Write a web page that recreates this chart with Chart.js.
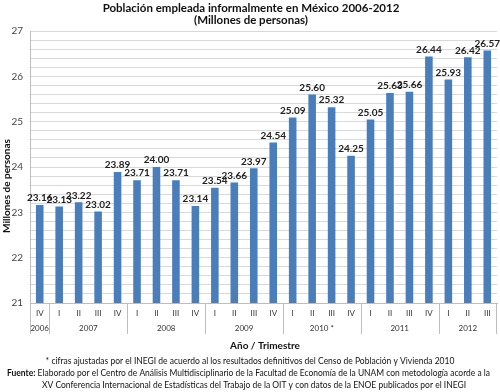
<!DOCTYPE html>
<html>
<head>
<meta charset="utf-8">
<script src="https://cdn.jsdelivr.net/npm/chart.js@4"></script>
<style>
html,body{margin:0;padding:0;background:#fff;}
#wrap{position:relative;width:500px;height:392px;}
</style>
</head>
<body>
<div id="wrap"><canvas id="c" width="500" height="392"></canvas></div>
<script>
const quarters = ['IV','I','II','III','IV','I','II','III','IV','I','II','III','IV','I','II','III','IV','I','II','III','IV','I','II','III'];
const years = ['2006','2007','2007','2007','2007','2008','2008','2008','2008','2009','2009','2009','2009','2010 *','2010 *','2010 *','2010 *','2011','2011','2011','2011','2012','2012','2012'];
const values = [23.16,23.13,23.22,23.02,23.89,23.71,24.00,23.71,23.14,23.54,23.66,23.97,24.54,25.09,25.60,25.32,24.25,25.05,25.63,25.66,26.44,25.93,26.42,26.57];
const yTicks = [21,22,23,24,25,26,27];
const titleLines = ['Población empleada informalmente en México 2006-2012','(Millones de personas)'];
const yTitle = 'Millones de personas';
const xTitle = 'Año / Trimestre';
const footnote = '* cifras ajustadas por el INEGI de acuerdo al los resultados definitivos del Censo de Población y Vivienda 2010';
const sourceLabel = 'Fuente:';
const sourceText1 = ' Elaborado por el Centro de Análisis Multidisciplinario de la Facultad de Economía de la UNAM con metodología acorde a la';
const sourceText2 = 'XV Conferencia Internacional de Estadísticas del Trabajo de la OIT y con datos de la ENOE publicados por el INEGI';

const FONT = 'Lato, "Open Sans", sans-serif';

function fitText(ctx, text, x, y, maxW) {
  const w = ctx.measureText(text).width;
  if (w > maxW) {
    ctx.save();
    ctx.translate(x, y);
    ctx.scale(maxW / w, 1);
    ctx.fillText(text, 0, 0);
    ctx.restore();
  } else ctx.fillText(text, x, y);
}

const extras = {
  id: 'extras',
  afterDatasetsDraw(chart) {
    const ctx = chart.ctx;
    const meta = chart.getDatasetMeta(0);
    ctx.save();
    ctx.font = 'bold 10px ' + FONT;
    ctx.fillStyle = '#222';
    ctx.textAlign = 'center';
    ctx.textBaseline = 'bottom';
    meta.data.forEach((bar, i) => {
      ctx.fillText(values[i].toFixed(2), bar.x, bar.y - 2);
    });
    ctx.restore();
  },
  afterDraw(chart) {
    const ctx = chart.ctx;
    const xs = chart.scales.x;
    const area = chart.chartArea;
    ctx.save();
    // titles
    ctx.fillStyle = '#111';
    ctx.textAlign = 'center';
    ctx.textBaseline = 'middle';
    ctx.font = 'bold 11.5px ' + FONT;
    ctx.fillText(titleLines[0], 251, 8);
    ctx.fillText(titleLines[1], 251, 20);
    // year group separators and labels
    const half = (xs.getPixelForValue(1) - xs.getPixelForValue(0)) / 2;
    ctx.strokeStyle = '#bdbdbd';
    ctx.lineWidth = 1;
    let start = 0;
    const bounds = [];
    for (let i = 1; i <= years.length; i++) {
      if (i === years.length || years[i] !== years[start]) {
        bounds.push([start, i - 1]);
        start = i;
      }
    }
    ctx.font = '8px ' + FONT;
    ctx.fillStyle = '#333';
    bounds.forEach(([a, b], k) => {
      const left = xs.getPixelForValue(a) - half;
      const right = xs.getPixelForValue(b) + half;
      ctx.beginPath();
      const lx = Math.round(left) + 0.5;
      ctx.moveTo(lx, area.bottom);
      ctx.lineTo(lx, area.bottom + 31);
      ctx.stroke();
      if (k === bounds.length - 1) {
        const rx = Math.round(right) - 0.5;
        ctx.beginPath();
        ctx.moveTo(rx, area.bottom);
        ctx.lineTo(rx, area.bottom + 31);
        ctx.stroke();
      }
      ctx.fillText(years[a], (left + right) / 2, area.bottom + 25);
    });
    // axis titles
    ctx.fillStyle = '#111';
    ctx.font = 'bold 10px ' + FONT;
    ctx.fillText(xTitle, 265, 346);
    ctx.save();
    ctx.translate(7, 186);
    ctx.rotate(-Math.PI / 2);
    ctx.fillText(yTitle, 0, 0);
    ctx.restore();
    // footnotes
    ctx.font = '8.5px ' + FONT;
    ctx.fillStyle = '#111';
    ctx.textAlign = 'center';
    fitText(ctx, footnote, 250, 361, 440);
    ctx.textAlign = 'left';
    ctx.font = 'bold 8.5px ' + FONT;
    const lw = ctx.measureText(sourceLabel).width;
    ctx.fillText(sourceLabel, 7, 373);
    ctx.font = '8.5px ' + FONT;
    fitText(ctx, sourceText1, 7 + lw, 373, 490 - 7 - lw);
    ctx.textAlign = 'center';
    fitText(ctx, sourceText2, 254, 385, 424);
    ctx.restore();
  }
};

new Chart(document.getElementById('c'), {
  type: 'bar',
  data: {
    labels: quarters,
    datasets: [{
      data: values,
      backgroundColor: '#4a7ebb',
      borderWidth: 0,
      barPercentage: 0.39,
      categoryPercentage: 1.0
    }]
  },
  options: {
    responsive: false,
    animation: false,
    events: [],
    layout: { padding: { top: 31, left: 0, right: 3, bottom: 69 } },
    plugins: { legend: { display: false }, tooltip: { enabled: false }, title: { display: false } },
    scales: {
      x: {
        grid: { display: false, drawTicks: false },
        border: { display: true, color: '#bdbdbd' },
        ticks: { color: '#333', font: { size: 8, family: FONT }, padding: 6, maxRotation: 0, autoSkip: false },
        afterFit(s) { s.height = 20; }
      },
      y: {
        min: 21, max: 27,
        grid: { color: '#d9d9d9', drawTicks: false },
        border: { display: true, color: '#bdbdbd' },
        ticks: {
          stepSize: 0.2,
          autoSkip: false,
          padding: 7,
          color: '#444',
          font: { size: 10, family: FONT },
          callback(v) {
            const r = Math.round(v);
            return (Math.abs(v - r) < 1e-6 && yTicks.includes(r)) ? String(r) : '';
          }
        },
        afterFit(s) { s.width = 30; }
      }
    }
  },
  plugins: [extras]
});
</script>
</body>
</html>
